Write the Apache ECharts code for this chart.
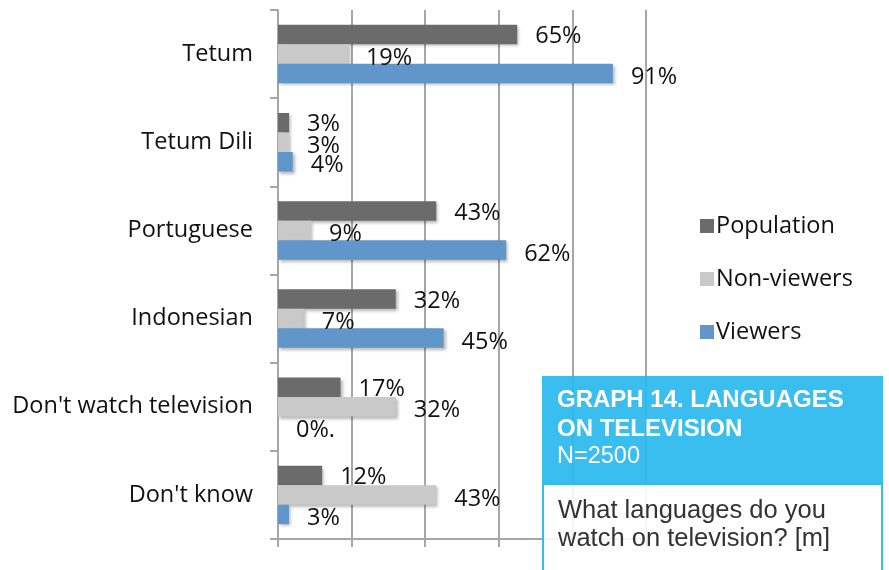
<!DOCTYPE html>
<html>
<head>
<meta charset="utf-8">
<script src="https://cdn.jsdelivr.net/npm/echarts@6/dist/echarts.min.js"></script>
<style>
html,body{margin:0;padding:0;background:#fff;}
#chart{width:889px;height:570px;}
</style>
</head>
<body>
<div id="chart"></div>
<script>
var categories = ["Tetum", "Tetum Dili", "Portuguese", "Indonesian", "Don't watch television", "Don't know"];
var seriesNames = ["Population", "Non-viewers", "Viewers"];
var population = [65, 3, 43, 32, 17, 12];
var nonViewers = [19, 3, 9, 7, 32, 43];
var viewers = [91, 4, 62, 45, 0, 3];
var xTicks = [0, 20, 40, 60, 80, 100];
var titleLines = ["GRAPH 14. LANGUAGES", "ON TELEVISION"];
var subtitle = "N=2500";
var questionLines = ["What languages do you", "watch on television? [m]"];

var colors = ["#6b6b6b", "#c9c9c9", "#6096c9"];
var font = "Open Sans";
var boxFont = '"Liberation Sans", Arial, sans-serif';

function mkSeries(name, data, color, labelOffsetY) {
  return {
    name: name,
    type: 'bar',
    data: data,
    barWidth: 19.5,
    barGap: '0%',
    itemStyle: {
      color: color,
      shadowBlur: 3,
      shadowOffsetX: 2,
      shadowOffsetY: 2,
      shadowColor: 'rgba(0,0,0,0.28)'
    },
    label: {
      show: true,
      position: 'right',
      distance: 18,
      offset: [0, labelOffsetY],
      color: '#111',
      fontFamily: font,
      fontSize: 23.5,
      formatter: function (p) { return p.value + '%' + (p.value === 0 ? '.' : ''); }
    }
  };
}

var chart = echarts.init(document.getElementById('chart'), null, {renderer: 'canvas'});
chart.setOption({
  animation: false,
  backgroundColor: '#fff',
  grid: {left: 278, right: 243, top: 10, bottom: 31, containLabel: false},
  legend: {
    orient: 'vertical',
    left: 695,
    top: 209,
    itemWidth: 14,
    itemHeight: 14,
    itemGap: 29,
    icon: 'rect',
    data: seriesNames,
    textStyle: {fontFamily: font, fontSize: 23.5, color: '#111', lineHeight: 24, padding: [0, 0, 0, -3]}
  },
  xAxis: {
    type: 'value',
    min: xTicks[0],
    max: xTicks[xTicks.length - 1],
    interval: xTicks[1] - xTicks[0],
    axisLine: {show: true, lineStyle: {color: '#a6a6a6', width: 2}},
    axisTick: {show: true, length: 8, lineStyle: {color: '#a6a6a6', width: 2}},
    axisLabel: {show: false},
    splitLine: {show: true, lineStyle: {color: '#a6a6a6', width: 2}}
  },
  yAxis: {
    type: 'category',
    data: categories,
    inverse: true,
    axisLine: {show: true, lineStyle: {color: '#a6a6a6', width: 2}},
    axisTick: {show: true, length: 8, lineStyle: {color: '#a6a6a6', width: 2}},
    axisLabel: {fontFamily: font, fontSize: 23.5, color: '#111', margin: 25}
  },
  series: [
    mkSeries(seriesNames[0], population, colors[0], 2),
    mkSeries(seriesNames[1], nonViewers, colors[1], 4),
    mkSeries(seriesNames[2], viewers, colors[2], 4)
  ],
  graphic: [
    {type: 'rect', z: 100, shape: {x: 542, y: 376, width: 341, height: 108},
      style: {fill: 'rgba(43,185,238,0.93)'}},
    {type: 'rect', z: 100, shape: {x: 543, y: 484, width: 339, height: 100},
      style: {fill: 'rgba(255,255,255,0.88)', stroke: 'rgba(43,185,238,0.95)', lineWidth: 2}},
    {type: 'text', z: 101, left: 557, top: 386,
      style: {text: titleLines.join('\n'), fill: '#fff', fontFamily: boxFont, fontWeight: 'bold', fontSize: 24, lineHeight: 29}},
    {type: 'text', z: 101, left: 557, top: 443,
      style: {text: subtitle, fill: '#fff', fontFamily: boxFont, fontSize: 23.5, lineHeight: 28}},
    {type: 'text', z: 101, left: 558, top: 497,
      style: {text: questionLines.join('\n'), fill: '#333', fontFamily: boxFont, fontSize: 25.5, lineHeight: 28}}
  ]
});
</script>
</body>
</html>
